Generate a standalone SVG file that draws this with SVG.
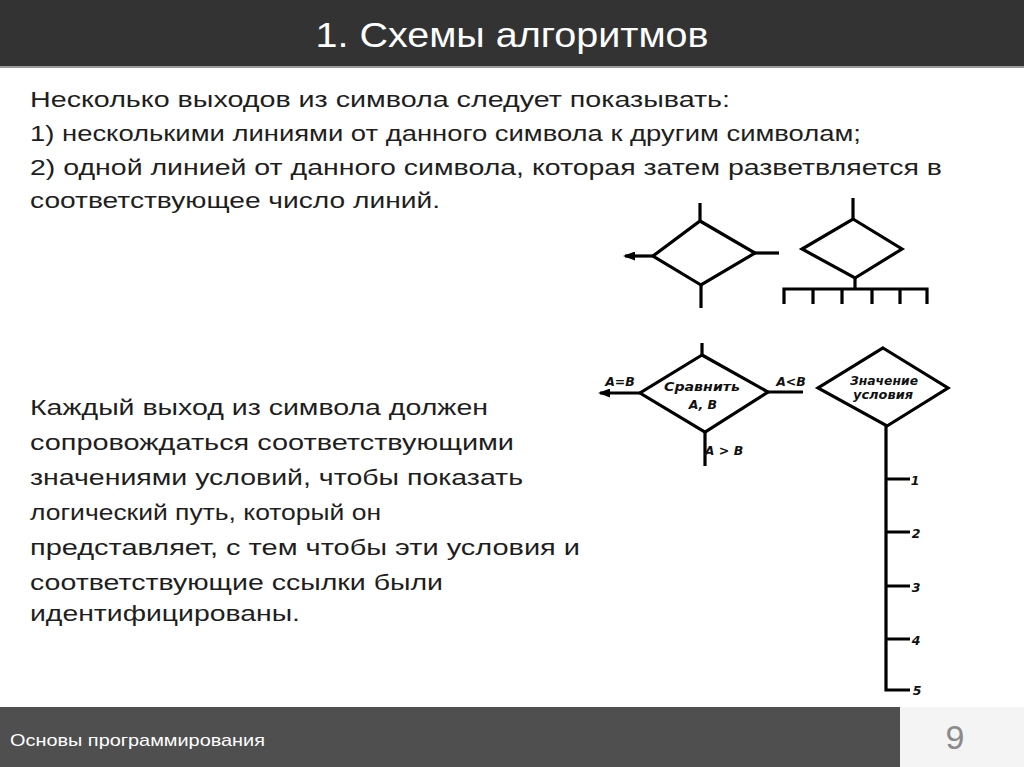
<svg xmlns="http://www.w3.org/2000/svg" width="1024" height="767" viewBox="0 0 1024 767">
<defs>
<style>
.txt{font-family:"Liberation Sans",Arial,sans-serif;font-size:22px;fill:#1e1e1e}
.ln{stroke:#000;stroke-width:3.2;fill:none;stroke-linejoin:miter}
.dm{stroke:#000;stroke-width:3.2;fill:#fff}
.hw{font-family:"DejaVu Sans",sans-serif;font-style:italic;font-weight:bold;font-size:12.5px;fill:#111;text-anchor:middle}
</style>
<marker id="arr" markerWidth="12" markerHeight="9" refX="10" refY="4.5" orient="auto" markerUnits="userSpaceOnUse">
<path d="M0,0 L12,4.5 L0,9 Z" fill="#000"/>
</marker>
</defs>
<rect x="0" y="0" width="1024" height="767" fill="#fff"/>
<rect x="0" y="0" width="1024" height="66" fill="#333"/>
<rect x="0" y="66" width="1024" height="2" fill="#9a9a9a"/>
<text x="512" y="47" text-anchor="middle" font-family="Liberation Sans, Arial, sans-serif" font-size="35" fill="#fff" textLength="393" lengthAdjust="spacingAndGlyphs">1. Схемы алгоритмов</text>

<g id="text1">
<text class="txt" x="30" y="107" textLength="700" lengthAdjust="spacingAndGlyphs">Несколько выходов из символа следует показывать:</text>
<text class="txt" x="30" y="141" textLength="831" lengthAdjust="spacingAndGlyphs">1) несколькими линиями от данного символа к другим символам;</text>
<text class="txt" x="30" y="175" textLength="912" lengthAdjust="spacingAndGlyphs">2) одной линией от данного символа, которая затем разветвляется в</text>
<text class="txt" x="30" y="208" textLength="410" lengthAdjust="spacingAndGlyphs">соответствующее число линий.</text>
</g>
<g id="text2">
<text class="txt" x="30" y="415" textLength="458" lengthAdjust="spacingAndGlyphs">Каждый выход из символа должен</text>
<text class="txt" x="30" y="450" textLength="484" lengthAdjust="spacingAndGlyphs">сопровождаться соответствующими</text>
<text class="txt" x="30" y="485" textLength="493" lengthAdjust="spacingAndGlyphs">значениями условий, чтобы показать</text>
<text class="txt" x="30" y="520" textLength="351" lengthAdjust="spacingAndGlyphs">логический путь, который он</text>
<text class="txt" x="30" y="555" textLength="550" lengthAdjust="spacingAndGlyphs">представляет, с тем чтобы эти условия и</text>
<text class="txt" x="30" y="590" textLength="413" lengthAdjust="spacingAndGlyphs">соответствующие ссылки были</text>
<text class="txt" x="30" y="621" textLength="270" lengthAdjust="spacingAndGlyphs">идентифицированы.</text>
</g>

<g id="connectors">
<!-- diagram 1 -->
<line class="ln" x1="700" y1="203" x2="700" y2="221"/>
<line class="ln" x1="701" y1="285" x2="701" y2="308"/>
<line class="ln" x1="755" y1="253" x2="779" y2="253"/>
<line class="ln" x1="653" y1="256" x2="625" y2="256" marker-end="url(#arr)"/>
<!-- diagram 2 -->
<line class="ln" x1="853" y1="198" x2="853" y2="219"/>
<line class="ln" x1="855" y1="278" x2="855" y2="289"/>
<path class="ln" d="M784,304 V289 H927 V304 M813,289 V304 M842,289 V304 M872,289 V304 M900,289 V304"/>
<!-- diagram 3 -->
<line class="ln" x1="702" y1="343" x2="702" y2="355"/>
<line class="ln" x1="705" y1="432" x2="705" y2="466"/>
<line class="ln" x1="768" y1="392" x2="803" y2="392"/>
<line class="ln" x1="640" y1="393" x2="600" y2="393" marker-end="url(#arr)"/>
<!-- diagram 4 -->
<path class="ln" d="M886,426 V690 H910 M886,479 H910 M886,532 H910 M886,586 H910 M886,639 H910"/>
</g>

<g id="node-decision1">
<polygon class="dm" points="700,221 755,253 701,285 653,256"/>
</g>
<g id="node-decision2">
<polygon class="dm" points="853,219 902,249 855,278 802,249"/>
</g>
<g id="node-compare">
<polygon class="dm" points="702,355 768,392 705,432 640,393"/>
<text class="hw" x="702" y="391" textLength="76" lengthAdjust="spacingAndGlyphs">Сравнить</text>
<text class="hw" x="703" y="409">А, В</text>
</g>
<g id="node-value">
<polygon class="dm" points="883,348 948,388 887,426 818,388"/>
<text class="hw" x="884" y="385" textLength="68" lengthAdjust="spacingAndGlyphs">Значение</text>
<text class="hw" x="883" y="399" textLength="60" lengthAdjust="spacingAndGlyphs">условия</text>
</g>
<g id="labels">
<text class="hw" x="620" y="386">А=В</text>
<text class="hw" x="791" y="386">А&lt;В</text>
<text class="hw" x="724" y="455">А &gt; В</text>
<text class="hw" x="915" y="485">1</text>
<text class="hw" x="916" y="538">2</text>
<text class="hw" x="916" y="592">3</text>
<text class="hw" x="916" y="645">4</text>
<text class="hw" x="917" y="695">5</text>
</g>

<rect x="0" y="707" width="900" height="60" fill="#4f4f4f"/>
<rect x="900" y="707" width="124" height="60" fill="#f4f4f4"/>
<text x="10" y="746" font-family="Liberation Sans, Arial, sans-serif" font-size="17" fill="#fff" textLength="255" lengthAdjust="spacingAndGlyphs">Основы программирования</text>
<text x="955" y="749" text-anchor="middle" font-family="Liberation Sans, Arial, sans-serif" font-size="34" fill="#8a8a8a">9</text>
</svg>
